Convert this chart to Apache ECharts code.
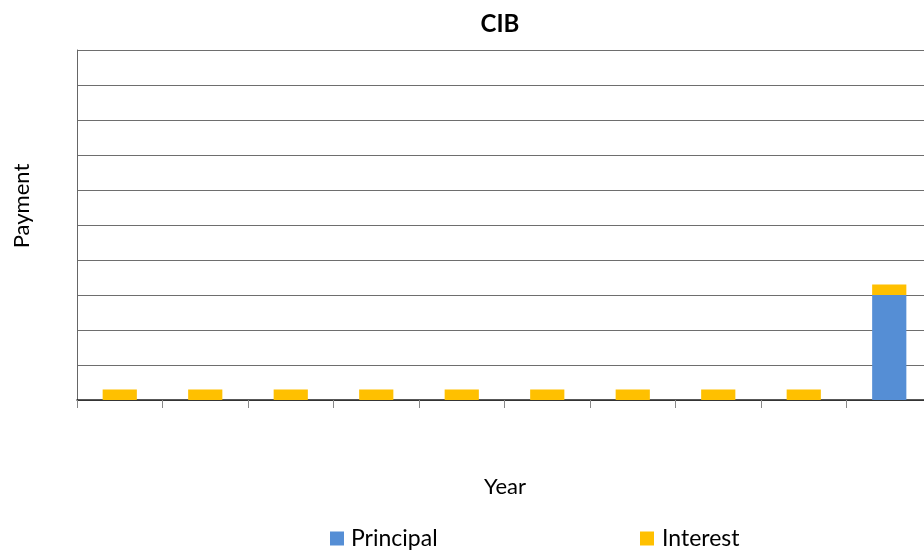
<!DOCTYPE html>
<html>
<head>
<meta charset="utf-8">
<script src="https://cdn.jsdelivr.net/npm/echarts@6/dist/echarts.min.js"></script>
<style>html,body{margin:0;padding:0;background:#fff;}#c{width:924px;height:553px;}</style>
</head>
<body>
<div id="c"></div>
<script>
const categories = ['1','2','3','4','5','6','7','8','9','10'];
const principal = [0,0,0,0,0,0,0,0,0,3];
const interest = [0.3,0.3,0.3,0.3,0.3,0.3,0.3,0.3,0.3,0.3];

const chart = echarts.init(document.getElementById('c'));
const font = 'Lato, "Open Sans", sans-serif';
chart.setOption({
  animation: false,
  backgroundColor: '#fff',
  title: {
    text: 'CIB', left: 495, top: 7, textAlign: 'center',
    textStyle: {fontFamily: font, fontSize: 24, fontWeight: 'bold', color: '#000'}
  },
  legend: [
    {data: ['Principal'], left: 330, top: 527, padding: 0, icon: 'rect', itemWidth: 14, itemHeight: 14, itemGap: 6,
     textStyle: {fontFamily: font, fontSize: 23, color: '#000', padding: [0,0,0,2]}},
    {data: ['Interest'], left: 640, top: 527, padding: 0, icon: 'rect', itemWidth: 14, itemHeight: 14, itemGap: 6,
     textStyle: {fontFamily: font, fontSize: 23, color: '#000', padding: [0,0,0,3]}}
  ],
  graphic: [
    {type: 'text', x: 22, y: 206, rotation: Math.PI / 2,
     style: {text: 'Payment', fontFamily: font, fontSize: 22, fill: '#000', align: 'center', verticalAlign: 'middle'}},
    {type: 'text', x: 505, y: 487,
     style: {text: 'Year', fontFamily: font, fontSize: 22, fill: '#000', align: 'center', verticalAlign: 'middle'}}
  ],
  grid: {left: 77, width: 855, top: 50, height: 350, containLabel: false, outerBoundsMode: 'none'},
  xAxis: {
    type: 'category', data: categories, boundaryGap: true,
    axisLine: {lineStyle: {color: '#222', width: 1.5}},
    axisTick: {show: true, length: 8, lineStyle: {color: '#888'}},
    axisLabel: {show: false}
  },
  yAxis: {
    type: 'value', min: 0, max: 10, interval: 1,
    axisLine: {show: true, lineStyle: {color: '#666'}},
    axisTick: {show: false},
    axisLabel: {show: false},
    splitLine: {show: true, lineStyle: {color: '#6e6e6e', width: 1}}
  },
  series: [
    {name: 'Principal', type: 'bar', stack: 'a', data: principal, barWidth: '40%',
     itemStyle: {color: '#558ed5'}},
    {name: 'Interest', type: 'bar', stack: 'a', data: interest, barWidth: '40%',
     itemStyle: {color: '#ffc000'}}
  ]
});
</script>
</body>
</html>
